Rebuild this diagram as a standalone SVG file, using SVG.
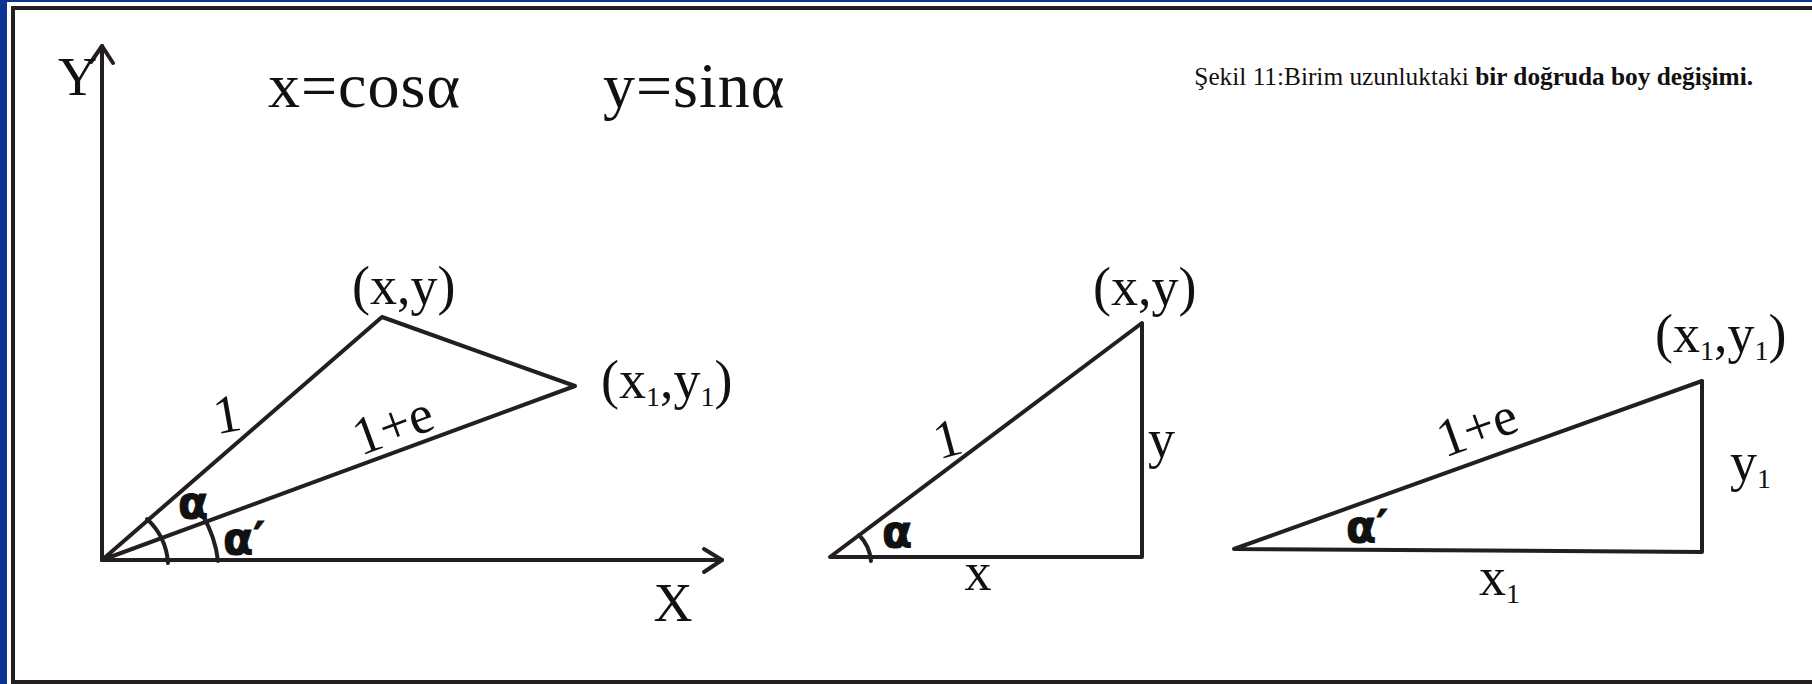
<svg xmlns="http://www.w3.org/2000/svg" width="1812" height="684" viewBox="0 0 1812 684">
<defs>
<style>
.ln{fill:none;stroke:#231f20;stroke-width:4;stroke-linejoin:round;stroke-linecap:round}
.t{font-family:"Liberation Serif","Times New Roman",serif;fill:#111}
.lb{font-size:54px}
.big{font-size:64px;letter-spacing:1px}
.sub{font-size:28px}
.al{font-family:"DejaVu Sans",sans-serif;font-weight:bold;font-size:44px;fill:#111;stroke:#111;stroke-width:1}
.cap{font-size:25.3px}
</style>
</defs>
<rect x="0" y="0" width="1812" height="684" fill="#0b3391"/>
<rect x="7" y="2" width="1805" height="682" fill="#ffffff"/>
<path d="M1814,8 H13 V682 H1814" fill="none" stroke="#231f20" stroke-width="4"/>

<g id="caption">
<text class="t cap" x="1753" y="85" text-anchor="end">Şekil 11:Birim uzunluktaki <tspan font-weight="bold">bir doğruda boy değişimi.</tspan></text>
</g>

<g id="formulas">
<text class="t big" x="268" y="107">x=cosα</text>
<text class="t big" x="603" y="107">y=sinα</text>
</g>

<g id="connectors">
<path class="ln" d="M102,560 V46"/>
<path class="ln" d="M91,62 L102,46 L113,63"/>
<path class="ln" d="M102,560 H722"/>
<path class="ln" d="M704,549 L722,560 L704,572"/>
</g>

<g id="left-figure">
<path class="ln" d="M102,560 L382,317 L575,386 Z"/>
<path class="ln" d="M147,519 A66,66 0 0 1 168,563"/>
<path class="ln" d="M203,516 A116,116 0 0 1 218,561"/>
<text class="t lb" x="58" y="95">Y</text>
<text class="t lb" x="673" y="621" text-anchor="middle">X</text>
<text class="t lb" x="352" y="304">(x,y)</text>
<text class="t lb" x="601" y="398">(x<tspan class="sub" dy="8">1</tspan><tspan dy="-8">,y</tspan><tspan class="sub" dy="8">1</tspan><tspan dy="-8">)</tspan></text>
<text class="t lb" x="230" y="432" text-anchor="middle" transform="rotate(-10 230 432)">1</text>
<text class="t lb" x="399" y="442" text-anchor="middle" transform="rotate(-20.2 399 442)">1+e</text>
<text class="al" x="178" y="518">α</text>
<text class="al" x="223" y="554">α′</text>
</g>

<g id="middle-triangle">
<path class="ln" d="M830,557 L1142,323 L1142,557 Z"/>
<path class="ln" d="M859,535 A42,42 0 0 1 871,561"/>
<text class="t lb" x="1093" y="305">(x,y)</text>
<text class="t lb" x="952" y="456" text-anchor="middle" transform="rotate(-15 952 456)">1</text>
<text class="t lb" x="1148" y="457">y</text>
<text class="t lb" x="978" y="590" text-anchor="middle">x</text>
<text class="al" x="882" y="547">α</text>
</g>

<g id="right-triangle">
<path class="ln" d="M1234,549 L1702,381 L1702,552 Z"/>
<text class="t lb" x="1655" y="352">(x<tspan class="sub" dy="8">1</tspan><tspan dy="-8">,y</tspan><tspan class="sub" dy="8">1</tspan><tspan dy="-8">)</tspan></text>
<text class="t lb" x="1483" y="444" text-anchor="middle" transform="rotate(-19.9 1483 444)">1+e</text>
<text class="t lb" x="1730" y="480">y<tspan class="sub" dy="8">1</tspan></text>
<text class="t lb" x="1479" y="595">x<tspan class="sub" dy="8">1</tspan></text>
<text class="al" x="1346" y="542">α′</text>
</g>
</svg>
